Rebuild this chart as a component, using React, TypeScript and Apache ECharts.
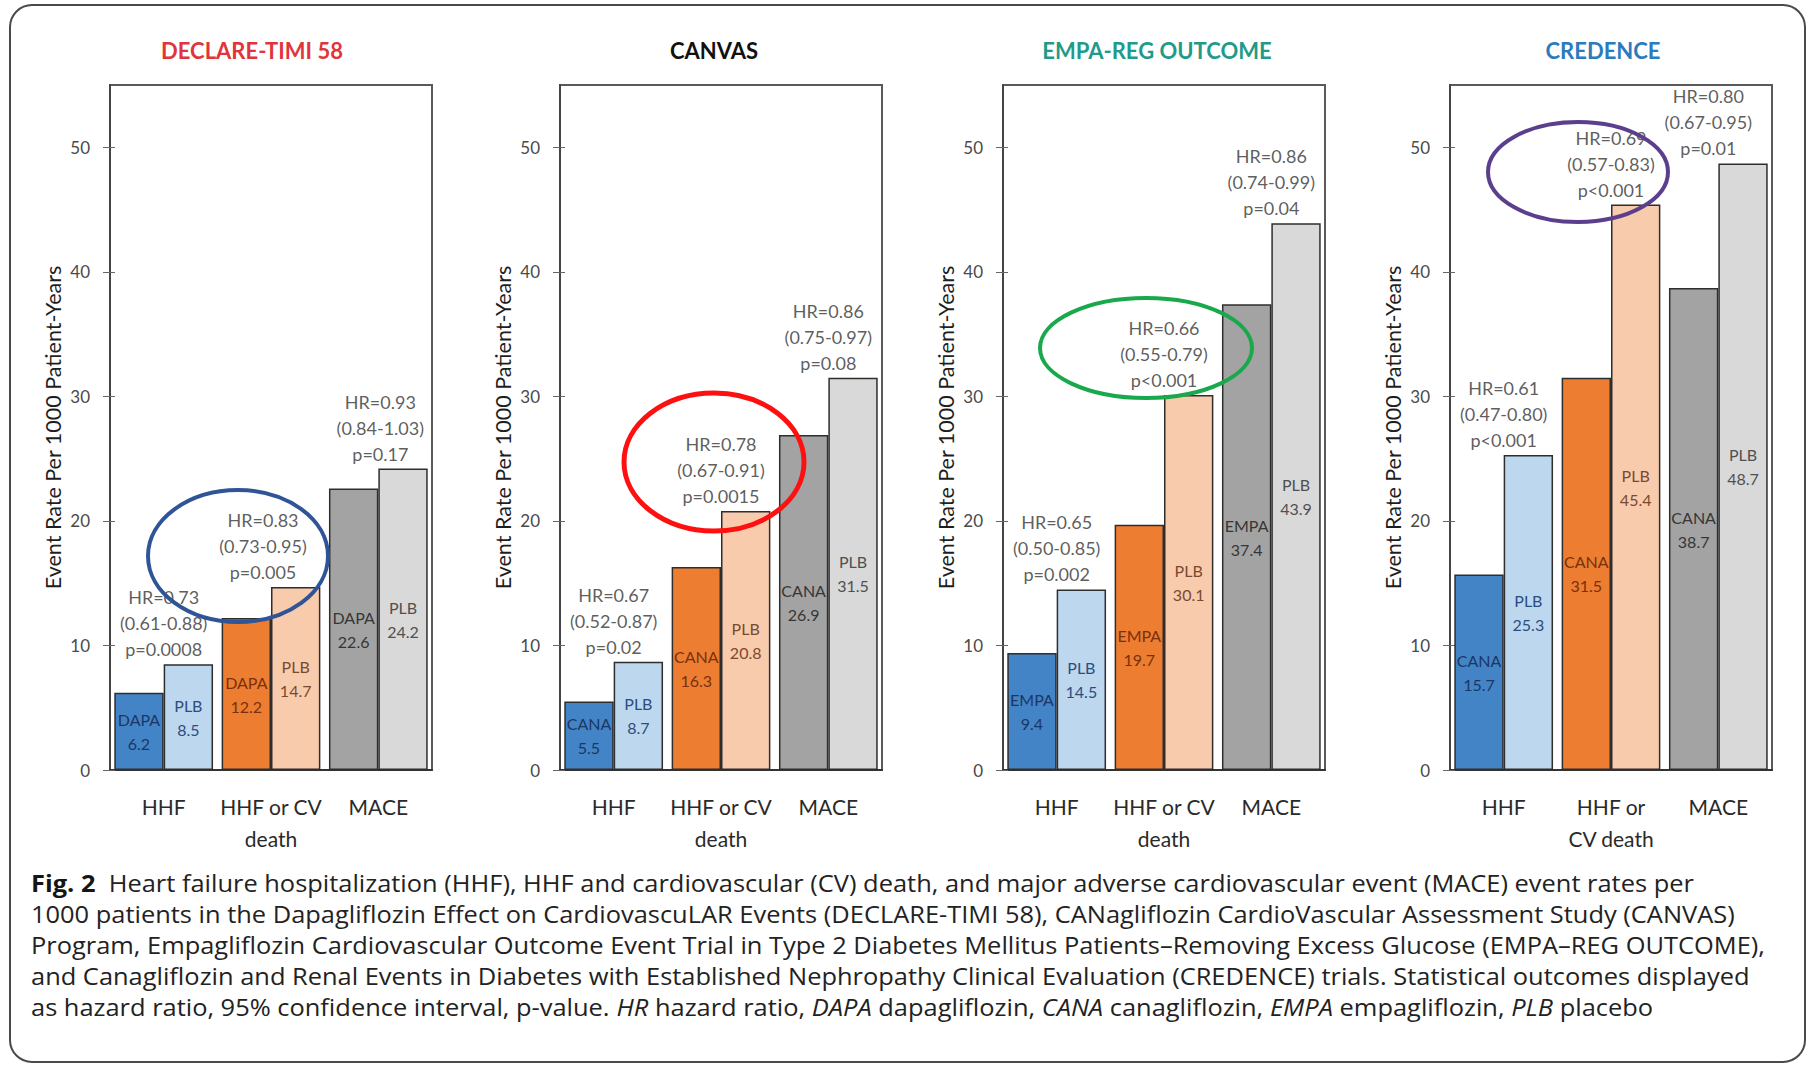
import React, { useEffect, useRef } from 'react';
import * as echarts from 'echarts';

// Outcome categories on each panel's x axis
const categories = ['HHF', 'HHF or CV\ndeath', 'MACE'];
const categoriesCredence = ['HHF', 'HHF or\nCV death', 'MACE'];

// Trial names and active-drug abbreviations
const trialNames = ['DECLARE-TIMI 58', 'CANVAS', 'EMPA-REG OUTCOME', 'CREDENCE'];
const trialColors = ['#e0353d', '#111111', '#1f9a8b', '#2b7bbd'];
const drugNames = ['DAPA', 'CANA', 'EMPA', 'CANA'];
const placeboName = 'PLB';

// Event rates per 1000 patient-years
const declareDrug = [6.2, 12.2, 22.6];
const declarePlacebo = [8.5, 14.7, 24.2];
const canvasDrug = [5.5, 16.3, 26.9];
const canvasPlacebo = [8.7, 20.8, 31.5];
const empaDrug = [9.4, 19.7, 37.4];
const empaPlacebo = [14.5, 30.1, 43.9];
const credenceDrug = [15.7, 31.5, 38.7];
const credencePlacebo = [25.3, 45.4, 48.7];

// Hazard ratio, 95% CI and p-value per outcome
const declareStats = ['HR=0.73\n(0.61-0.88)\np=0.0008', 'HR=0.83\n(0.73-0.95)\np=0.005', 'HR=0.93\n(0.84-1.03)\np=0.17'];
const canvasStats = ['HR=0.67\n(0.52-0.87)\np=0.02', 'HR=0.78\n(0.67-0.91)\np=0.0015', 'HR=0.86\n(0.75-0.97)\np=0.08'];
const empaStats = ['HR=0.65\n(0.50-0.85)\np=0.002', 'HR=0.66\n(0.55-0.79)\np<0.001', 'HR=0.86\n(0.74-0.99)\np=0.04'];
const credenceStats = ['HR=0.61\n(0.47-0.80)\np<0.001', 'HR=0.69\n(0.57-0.83)\np<0.001', 'HR=0.80\n(0.67-0.95)\np=0.01'];

const yTicks = [0, 10, 20, 30, 40, 50];
const yMax = 55;
const yTitle = 'Event Rate Per 1000 Patient-Years';

const captionLines = [
  '{b|Fig. 2}  Heart failure hospitalization (HHF), HHF and cardiovascular (CV) death, and major adverse cardiovascular event (MACE) event rates per',
  '1000 patients in the Dapagliflozin Effect on CardiovascuLAR Events (DECLARE-TIMI 58), CANagliflozin CardioVascular Assessment Study (CANVAS)',
  'Program, Empagliflozin Cardiovascular Outcome Event Trial in Type 2 Diabetes Mellitus Patients\u2013Removing Excess Glucose (EMPA\u2013REG OUTCOME),',
  'and Canagliflozin and Renal Events in Diabetes with Established Nephropathy Clinical Evaluation (CREDENCE) trials. Statistical outcomes displayed',
  'as hazard ratio, 95% confidence interval, p-value. {i|HR} hazard ratio, {i|DAPA} dapagliflozin, {i|CANA} canagliflozin, {i|EMPA} empagliflozin, {i|PLB} placebo',
];

const drugSets = [declareDrug, canvasDrug, empaDrug, credenceDrug];
const placeboSets = [declarePlacebo, canvasPlacebo, empaPlacebo, credencePlacebo];
const statSets = [declareStats, canvasStats, empaStats, credenceStats];
const categorySets = [categories, categories, categories, categoriesCredence];

// Fill / label colours: blue = HHF, orange = HHF or CV death, grey = MACE
const drugFill = ['#4384c7', '#ed7d31', '#a3a3a3'];
const placeboFill = ['#bdd7ee', '#f8cbad', '#d9d9d9'];
const drugText = ['#1c3764', '#7a300c', '#363636'];
const placeboText = ['#2c4d80', '#7a4a2e', '#505050'];

// Layout of the four panels
const PANEL_LEFT = [110, 560, 1003, 1450];
const TITLE_X = [252, 714, 1157, 1603];
const PANEL_WIDTH = 322;
const PLOT_TOP = 85;
const PLOT_HEIGHT = 685;
const FONT = 'Lato, "Open Sans", sans-serif';

// Small horizontal nudges of the statistics blocks [panel][category]
const statNudge = [
  [0, -8, 2],
  [0, 0, 0],
  [0, 0, 0],
  [0, 0, -10],
];

// Highlight rings drawn around selected statistics
const rings = [
  { cx: 238, cy: 556, rx: 90, ry: 66, color: '#2f5597', width: 4 },
  { cx: 714, cy: 462, rx: 90, ry: 69, color: '#ff1010', width: 5 },
  { cx: 1146, cy: 348, rx: 106, ry: 50, color: '#19a84b', width: 4 },
  { cx: 1578, cy: 172, rx: 90, ry: 50, color: '#5b3f8c', width: 4 },
];

export default function App() {
  const ref = useRef<HTMLDivElement>(null);

  useEffect(() => {
    const el = ref.current;
    if (!el) return;
    const chart = echarts.init(el, undefined, { renderer: 'svg' });

    const grid: any[] = [];
    const xAxis: any[] = [];
    const yAxis: any[] = [];
    const series: any[] = [];

    for (let i = 0; i < 4; i++) {
      grid.push({
        left: PANEL_LEFT[i],
        top: PLOT_TOP,
        width: PANEL_WIDTH,
        height: PLOT_HEIGHT,
        show: true,
        borderColor: '#5a5a5a',
        borderWidth: 2,
        backgroundColor: 'transparent',
      });
      xAxis.push({
        type: 'category',
        gridIndex: i,
        data: categorySets[i],
        axisLine: { show: true, lineStyle: { color: '#333', width: 2 } },
        axisTick: { show: false },
        axisLabel: {
          interval: 0,
          margin: 20,
          fontFamily: FONT,
          fontSize: 21,
          lineHeight: 32,
          color: '#2a2a2a',
        },
      });
      yAxis.push({
        type: 'value',
        gridIndex: i,
        min: 0,
        max: yMax,
        interval: 10,
        name: yTitle,
        nameLocation: 'middle',
        nameRotate: 90,
        nameGap: 46,
        nameTextStyle: { fontFamily: FONT, fontSize: 21.5, color: '#1e1e1e' },
        axisLine: { show: true, lineStyle: { color: '#444', width: 2 } },
        axisTick: { show: true, length: 7, customValues: yTicks, lineStyle: { color: '#666' } },
        axisLabel: {
          customValues: yTicks,
          margin: 20,
          fontFamily: FONT,
          fontSize: 17,
          color: '#4a4a4a',
        },
        splitLine: { show: false },
      });
      yAxis.push({
        type: 'value',
        gridIndex: i,
        position: 'left',
        offset: 0,
        min: 0,
        max: yMax,
        interval: 10,
        axisLine: { show: false },
        axisTick: { show: true, inside: true, length: 5, customValues: yTicks, lineStyle: { color: '#666' } },
        axisLabel: { show: false },
        splitLine: { show: false },
      });

      const drug = drugSets[i];
      const plb = placeboSets[i];
      const stats = statSets[i];
      const drugName = drugNames[i];

      series.push({
        type: 'bar',
        name: drugName,
        xAxisIndex: i,
        yAxisIndex: i * 2,
        barGap: '0%',
        barCategoryGap: '8%',
        data: drug.map((v, k) => ({
          value: v,
          itemStyle: { color: drugFill[k] },
          label: { color: drugText[k] },
        })),
        itemStyle: { borderColor: '#2e2e2e', borderWidth: 1.5 },
        label: {
          show: true,
          position: 'inside',
          fontFamily: FONT,
          fontSize: 16,
          lineHeight: 24,
          formatter: (p: any) => `${drugName}\n${p.value}`,
        },
      });
      series.push({
        type: 'bar',
        name: placeboName,
        xAxisIndex: i,
        yAxisIndex: i * 2,
        barGap: '0%',
        barCategoryGap: '8%',
        data: plb.map((v, k) => ({
          value: v,
          itemStyle: { color: placeboFill[k] },
          label: { color: placeboText[k] },
        })),
        itemStyle: { borderColor: '#2e2e2e', borderWidth: 1.5 },
        label: {
          show: true,
          position: 'inside',
          fontFamily: FONT,
          fontSize: 16,
          lineHeight: 24,
          formatter: (p: any) => `${placeboName}\n${p.value}`,
        },
      });
      // Statistics text sits above the taller bar of each pair
      series.push({
        type: 'scatter',
        xAxisIndex: i,
        yAxisIndex: i * 2,
        symbolSize: 0.1,
        itemStyle: { color: 'transparent' },
        silent: true,
        z: 5,
        data: drug.map((v, k) => ({
          value: Math.max(v, plb[k]),
          label: { offset: [statNudge[i][k], 0] },
        })),
        label: {
          show: true,
          position: 'top',
          distance: 2,
          fontFamily: FONT,
          fontSize: 18,
          lineHeight: 26,
          color: '#333333',
          formatter: (p: any) => stats[p.dataIndex],
        },
      });
    }

    // Horizontal compression so the caption reads like a condensed face
    const CAPTION_SIZE = 23;
    const CAPTION_FONT = '"Open Sans", Lato, sans-serif';
    let captionScale = 0.78;
    const ctx = document.createElement('canvas').getContext('2d');
    if (ctx) {
      ctx.font = `${CAPTION_SIZE}px "Open Sans"`;
      const w = ctx.measureText(captionLines[2]).width;
      if (w > 0) captionScale = 1735 / w;
    }

    const graphic: any[] = [
      {
        type: 'rect',
        shape: { x: 10, y: 5, width: 1795, height: 1057, r: 22 },
        style: { fill: 'none', stroke: '#4a4a4a', lineWidth: 2 },
        z: 0,
        silent: true,
      },
    ];
    trialNames.forEach((t, i) => {
      graphic.push({
        type: 'text',
        x: TITLE_X[i],
        y: 50,
        style: {
          text: t,
          fill: trialColors[i],
          font: `bold 22px ${FONT}`,
          textAlign: 'center',
          textVerticalAlign: 'middle',
        },
      });
    });
    rings.forEach((r) => {
      graphic.push({
        type: 'ellipse',
        shape: { cx: r.cx, cy: r.cy, rx: r.rx, ry: r.ry },
        style: { fill: 'none', stroke: r.color, lineWidth: r.width },
        z: 100,
        silent: true,
      });
    });
    captionLines.forEach((line, k) => {
      graphic.push({
        type: 'text',
        x: 31,
        y: 883 + k * 31,
        scaleX: captionScale,
        style: {
          text: line,
          fill: '#222222',
          fontFamily: CAPTION_FONT,
          fontSize: CAPTION_SIZE,
          textAlign: 'left',
          textVerticalAlign: 'middle',
          rich: {
            b: { fontWeight: 'bold', fontFamily: CAPTION_FONT, fontSize: CAPTION_SIZE, fill: '#151515' },
            i: { fontStyle: 'italic', fontFamily: CAPTION_FONT, fontSize: CAPTION_SIZE, fill: '#222222' },
          },
        },
      });
    });

    chart.setOption({
      animation: false,
      backgroundColor: '#ffffff',
      grid,
      xAxis,
      yAxis,
      series,
      graphic,
    });

    return () => chart.dispose();
  }, []);

  return (
    <div
      ref={ref}
      style={{ position: 'fixed', left: 0, top: 0, width: 1810, height: 1067, background: '#fff' }}
    />
  );
}
